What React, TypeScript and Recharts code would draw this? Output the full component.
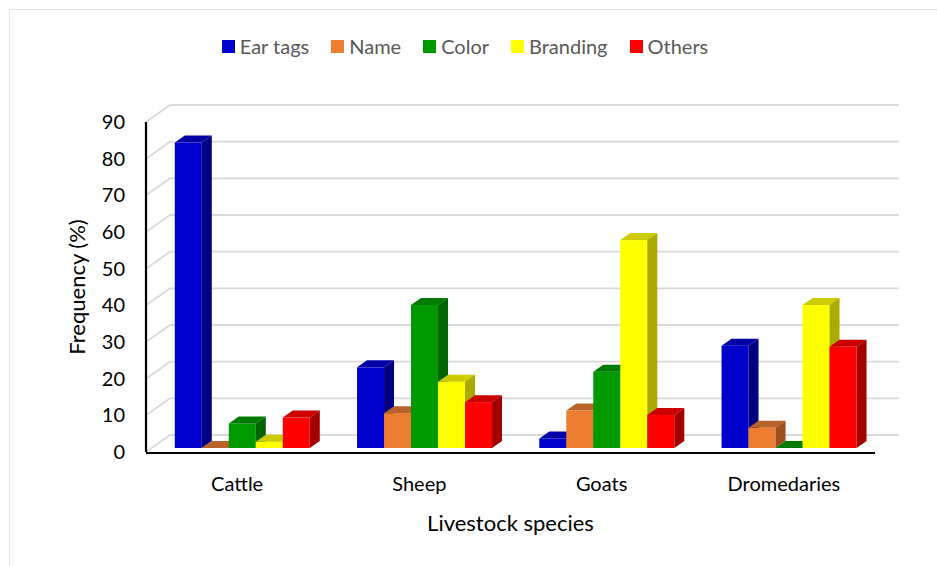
import { BarChart, Bar, XAxis, YAxis, CartesianGrid, Legend } from 'recharts';

const species = ['Cattle', 'Sheep', 'Goats', 'Dromedaries'];
const earTags = [83.3, 22, 2.6, 27.9];
const names = [0, 9.5, 10.2, 5.5];
const colors = [6.7, 39, 20.8, 0];
const branding = [1.7, 18.1, 56.7, 39];
const others = [8.3, 12.5, 9, 27.6];
const yTicks = [0, 10, 20, 30, 40, 50, 60, 70, 80, 90];

const SERIES = [
  { key: 'earTags', label: 'Ear tags', values: earTags, front: '#0000CC', top: '#0000A4', side: '#000080' },
  { key: 'name', label: 'Name', values: names, front: '#ED7D31', top: '#B9622A', side: '#9E4F1E' },
  { key: 'color', label: 'Color', values: colors, front: '#009900', top: '#007A00', side: '#006400' },
  { key: 'branding', label: 'Branding', values: branding, front: '#FFFF00', top: '#CCCC00', side: '#AAAA00' },
  { key: 'others', label: 'Others', values: others, front: '#FF0000', top: '#CC0000', side: '#A30000' },
];

const data = species.map((s, i) => {
  const row: Record<string, string | number> = { species: s };
  SERIES.forEach((sr) => {
    row[sr.key] = sr.values[i];
  });
  return row;
});

// 3D depth: bar box depth and the wall/floor planes relative to the bar plane
const BAR_DX = 10;
const BAR_DY = 7;
const FRONT_DX = -6;
const FRONT_DY = 4;
const BACK_DX = 18;
const BACK_DY = -13;

const FONT = 'Lato, "Open Sans", sans-serif';

const Box3D = (props: any) => {
  const { x, y, width, height, front, top, side } = props;
  const h = Math.max(0, height || 0);
  const r = x + width;
  return (
    <g>
      <rect x={x} y={y} width={width} height={h} fill={front} />
      <polygon
        points={`${x},${y} ${x + BAR_DX},${y - BAR_DY} ${r + BAR_DX},${y - BAR_DY} ${r},${y}`}
        fill={top}
      />
      <polygon
        points={`${r},${y} ${r + BAR_DX},${y - BAR_DY} ${r + BAR_DX},${y + h - BAR_DY} ${r},${y + h}`}
        fill={side}
      />
    </g>
  );
};

// back wall gridline plus the diagonal on the left side wall
const WallLine = (p: any) => {
  const { x1, y1, x2, y2 } = p;
  return (
    <g key={p.key}>
      <line x1={x1 + FRONT_DX} y1={y1 + FRONT_DY} x2={x1 + BACK_DX} y2={y1 + BACK_DY} stroke="#D9D9D9" strokeWidth={1.8} />
      <line x1={x1 + BACK_DX} y1={y1 + BACK_DY} x2={x2 + BACK_DX} y2={y2 + BACK_DY} stroke="#D9D9D9" strokeWidth={1.8} />
    </g>
  );
};

const YTick = ({ x, y, payload }: any) => (
  <text x={x} y={y + FRONT_DY} dy="0.35em" textAnchor="end" fontSize={20} fontFamily={FONT} fill="#000">
    {payload.value}
  </text>
);

const XTick = ({ x, y, payload }: any) => (
  <text x={x + FRONT_DX} y={y + 43} textAnchor="middle" fontSize={20} fontFamily={FONT} fill="#000">
    {payload.value}
  </text>
);

const XTitle = ({ viewBox }: any) => (
  <text
    x={viewBox.x + viewBox.width / 2 + FRONT_DX}
    y={viewBox.y + 83}
    textAnchor="middle"
    fontSize={22}
    fontFamily={FONT}
    fill="#000"
  >
    Livestock species
  </text>
);

const YTitle = ({ viewBox }: any) => {
  const cx = viewBox.x + viewBox.width / 2;
  const cy = viewBox.y + viewBox.height / 2 + FRONT_DY;
  return (
    <text
      x={cx}
      y={cy}
      dy="0.35em"
      textAnchor="middle"
      transform={`rotate(-90, ${cx}, ${cy})`}
      fontSize={22}
      fontFamily={FONT}
      fill="#000"
    >
      Frequency (%)
    </text>
  );
};

const LegendContent = () => (
  <div style={{ display: 'flex', justifyContent: 'center', paddingLeft: 15, fontFamily: FONT }}>
    {SERIES.map((s) => (
      <div key={s.key} style={{ display: 'flex', alignItems: 'center', marginRight: 22 }}>
        <span style={{ width: 13, height: 13, background: s.front, display: 'inline-block', marginRight: 5 }} />
        <span style={{ fontSize: 20, color: '#595959' }}>{s.label}</span>
      </div>
    ))}
  </div>
);

export default function App() {
  return (
    <div style={{ position: 'absolute', left: 0, top: 0, width: 937, height: 566, background: '#fff', overflow: 'hidden' }}>
      <div
        style={{
          position: 'absolute',
          left: 9,
          top: 9,
          width: 940,
          height: 570,
          border: '1px solid #E4E4E4',
        }}
      />
      <BarChart
        width={937}
        height={566}
        data={data}
        margin={{ top: 118, right: 56, bottom: 28, left: 2 }}
        barCategoryGap="12.5%"
        barGap={0}
      >
        <CartesianGrid vertical={false} horizontal={WallLine} />
        <XAxis
          dataKey="species"
          height={90}
          tickLine={false}
          tickSize={0}
          tickMargin={0}
          tick={<XTick />}
          axisLine={{ stroke: '#000', strokeWidth: 2.2, transform: `translate(${FRONT_DX},${FRONT_DY + 1})` }}
          label={{ content: <XTitle /> }}
        />
        <YAxis
          domain={[0, 90]}
          ticks={yTicks}
          width={150}
          tickLine={false}
          tickSize={0}
          tickMargin={27}
          tick={<YTick />}
          axisLine={{ stroke: '#000', strokeWidth: 2.2, transform: `translate(${FRONT_DX},${FRONT_DY})` }}
          label={{ content: <YTitle /> }}
        />
        <Legend
          layout="horizontal"
          verticalAlign="middle"
          align="center"
          wrapperStyle={{ top: 34, left: 0, width: 937 }}
          content={<LegendContent />}
        />
        {SERIES.map((s) => (
          <Bar
            key={s.key}
            dataKey={s.key}
            name={s.label}
            fill={s.front}
            isAnimationActive={false}
            shape={(p: any) => <Box3D {...p} front={s.front} top={s.top} side={s.side} />}
          />
        ))}
      </BarChart>
    </div>
  );
}
